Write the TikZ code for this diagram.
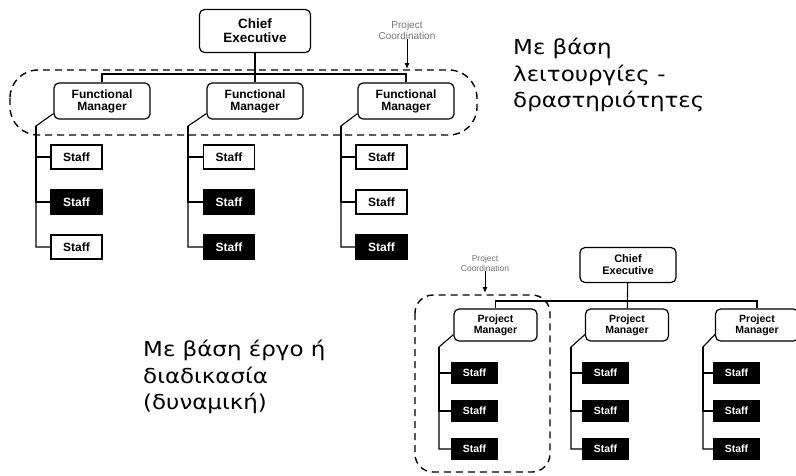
\documentclass[tikz,border=0pt]{standalone}
\usepackage{fontspec}
\usetikzlibrary{arrows.meta}
\newfontfamily\orgfont{Liberation Sans}
\newfontfamily\grfont[FakeStretch=1.12]{DejaVu Sans}
\pgfdeclarelayer{bg}
\pgfsetlayers{bg,main}
\tikzset{
    every node/.style={inner sep=0mm},
    mgr/.style={draw, rounded corners=5pt, line width=1.2pt, fill=white, align=center},
    staffw/.style={draw, line width=1.2pt, fill=white},
    staffb/.style={staffw, fill=black, text=white},
    link/.style={line width=1.1pt},
    group/.style={dash pattern=on 7pt off 5pt, line width=1.4pt},
    note/.style={align=center, text=black!55},
    greek/.style={align=left, anchor=north west, font=\grfont\fontsize{20.5}{26.5}\selectfont}
}
\begin{document}
\begin{tikzpicture}[x=1pt, y=-1pt]
        \useasboundingbox (0,0) rectangle (796,475);
        % functional structure
        \node (ceA) [mgr, minimum width=111pt, minimum height=43pt, font=\orgfont\bfseries\fontsize{13.5}{14}\selectfont] at (255,31) {Chief\\Executive};
        \node (fm1) [mgr, minimum width=96pt, minimum height=36pt, font=\orgfont\bfseries\fontsize{12}{12}\selectfont] at (102,101) {Functional\\Manager};
        \node (fm2) [mgr, minimum width=96pt, minimum height=36pt, font=\orgfont\bfseries\fontsize{12}{12}\selectfont] at (255,101) {Functional\\Manager};
        \node (fm3) [mgr, minimum width=96pt, minimum height=36pt, font=\orgfont\bfseries\fontsize{12}{12}\selectfont] at (406,101) {Functional\\Manager};
        \node (sA11) [staffw, minimum width=51pt, minimum height=24pt, font=\orgfont\bfseries\fontsize{12}{12}\selectfont] at (76.5,157) {Staff};
        \node (sA12) [staffb, minimum width=51pt, minimum height=24pt, font=\orgfont\bfseries\fontsize{12}{12}\selectfont] at (76.5,202) {Staff};
        \node (sA13) [staffw, minimum width=51pt, minimum height=24pt, font=\orgfont\bfseries\fontsize{12}{12}\selectfont] at (76.5,247) {Staff};
        \node (sA21) [staffw, minimum width=51pt, minimum height=24pt, font=\orgfont\bfseries\fontsize{12}{12}\selectfont] at (229,157) {Staff};
        \node (sA22) [staffb, minimum width=51pt, minimum height=24pt, font=\orgfont\bfseries\fontsize{12}{12}\selectfont] at (229,202) {Staff};
        \node (sA23) [staffb, minimum width=51pt, minimum height=24pt, font=\orgfont\bfseries\fontsize{12}{12}\selectfont] at (229,247) {Staff};
        \node (sA31) [staffw, minimum width=51pt, minimum height=24pt, font=\orgfont\bfseries\fontsize{12}{12}\selectfont] at (381.5,157) {Staff};
        \node (sA32) [staffw, minimum width=51pt, minimum height=24pt, font=\orgfont\bfseries\fontsize{12}{12}\selectfont] at (381.5,202) {Staff};
        \node (sA33) [staffb, minimum width=51pt, minimum height=24pt, font=\orgfont\bfseries\fontsize{12}{12}\selectfont] at (381.5,247) {Staff};
        \node (pcA) [note, font=\orgfont\fontsize{10}{11}\selectfont] at (407,30) {Project\\Coordination};
        \node (txA) [greek] at (513,38) {Με βάση\\λειτουργίες -\\δραστηριότητες};
        \coordinate (jA) at (255,74);
        \coordinate (kA1) at (36,126);
        \coordinate (kA2) at (188,126);
        \coordinate (kA3) at (341,126);
        \coordinate (tA) at (407,69);
        % project structure
        \node (ceB) [mgr, minimum width=96pt, minimum height=35pt, font=\orgfont\bfseries\fontsize{11}{12}\selectfont] at (628,265) {Chief\\Executive};
        \node (pm1) [mgr, minimum width=83pt, minimum height=32pt, font=\orgfont\bfseries\fontsize{10.5}{11}\selectfont] at (495.5,325) {Project\\Manager};
        \node (pm2) [mgr, minimum width=83pt, minimum height=32pt, font=\orgfont\bfseries\fontsize{10.5}{11}\selectfont] at (627,325) {Project\\Manager};
        \node (pm3) [mgr, minimum width=83pt, minimum height=32pt, font=\orgfont\bfseries\fontsize{10.5}{11}\selectfont] at (757,325) {Project\\Manager};
        \node (sB11) [staffb, minimum width=45pt, minimum height=20pt, font=\orgfont\bfseries\fontsize{10.5}{11}\selectfont] at (474.5,373) {Staff};
        \node (sB12) [staffb, minimum width=45pt, minimum height=20pt, font=\orgfont\bfseries\fontsize{10.5}{11}\selectfont] at (474.5,411) {Staff};
        \node (sB13) [staffb, minimum width=45pt, minimum height=20pt, font=\orgfont\bfseries\fontsize{10.5}{11}\selectfont] at (474.5,449) {Staff};
        \node (sB21) [staffb, minimum width=45pt, minimum height=20pt, font=\orgfont\bfseries\fontsize{10.5}{11}\selectfont] at (605.5,373) {Staff};
        \node (sB22) [staffb, minimum width=45pt, minimum height=20pt, font=\orgfont\bfseries\fontsize{10.5}{11}\selectfont] at (605.5,411) {Staff};
        \node (sB23) [staffb, minimum width=45pt, minimum height=20pt, font=\orgfont\bfseries\fontsize{10.5}{11}\selectfont] at (605.5,449) {Staff};
        \node (sB31) [staffb, minimum width=45pt, minimum height=20pt, font=\orgfont\bfseries\fontsize{10.5}{11}\selectfont] at (736.5,373) {Staff};
        \node (sB32) [staffb, minimum width=45pt, minimum height=20pt, font=\orgfont\bfseries\fontsize{10.5}{11}\selectfont] at (736.5,411) {Staff};
        \node (sB33) [staffb, minimum width=45pt, minimum height=20pt, font=\orgfont\bfseries\fontsize{10.5}{11}\selectfont] at (736.5,449) {Staff};
        \node (pcB) [note, font=\orgfont\fontsize{8.5}{10}\selectfont] at (485,263) {Project\\Coordination};
        \node (txB) [greek] at (143,340) {Με βάση έργο ή\\διαδικασία\\(δυναμική)};
        \coordinate (jB) at (628,301);
        \coordinate (kB1) at (439,347);
        \coordinate (kB2) at (571,347);
        \coordinate (kB3) at (703,347);
        \coordinate (tB) at (485,293);
        \begin{pgfonlayer}{bg}
                \draw [link] (ceA) -- (fm2);
                \draw [link] (fm1.north) |- (jA) -| (fm3.north);
                \draw [link] ([yshift=6pt]fm1.south west) -- (kA1) |- (sA13);
                \draw [link] (sA11) -| (kA1);
                \draw [link] (sA12) -| (kA1);
                \draw [link] ([yshift=6pt]fm2.south west) -- (kA2) |- (sA23);
                \draw [link] (sA21) -| (kA2);
                \draw [link] (sA22) -| (kA2);
                \draw [link] ([yshift=6pt]fm3.south west) -- (kA3) |- (sA33);
                \draw [link] (sA31) -| (kA3);
                \draw [link] (sA32) -| (kA3);
                \draw [link] (ceB) -- (pm2);
                \draw [link] (pm1.north) |- (jB) -| (pm3.north);
                \draw [link] ([yshift=7pt]pm1.south west) -- (kB1) |- (sB13);
                \draw [link] (sB11) -| (kB1);
                \draw [link] (sB12) -| (kB1);
                \draw [link] ([yshift=7pt]pm2.south west) -- (kB2) |- (sB23);
                \draw [link] (sB21) -| (kB2);
                \draw [link] (sB22) -| (kB2);
                \draw [link] ([yshift=7pt]pm3.south west) -- (kB3) |- (sB33);
                \draw [link] (sB31) -| (kB3);
                \draw [link] (sB32) -| (kB3);
        \end{pgfonlayer}
        \draw [group, rounded corners=28pt] (10,70) rectangle (477,135);
        \draw [group, rounded corners=18pt] (415,295) rectangle (550,472);
        \draw [-{Latex[length=6pt,width=5pt]}, line width=1pt] (pcA) -- (tA);
        \draw [-{Latex[length=6pt,width=5pt]}, line width=1pt] (pcB) -- (tB);
\end{tikzpicture}
\end{document}
